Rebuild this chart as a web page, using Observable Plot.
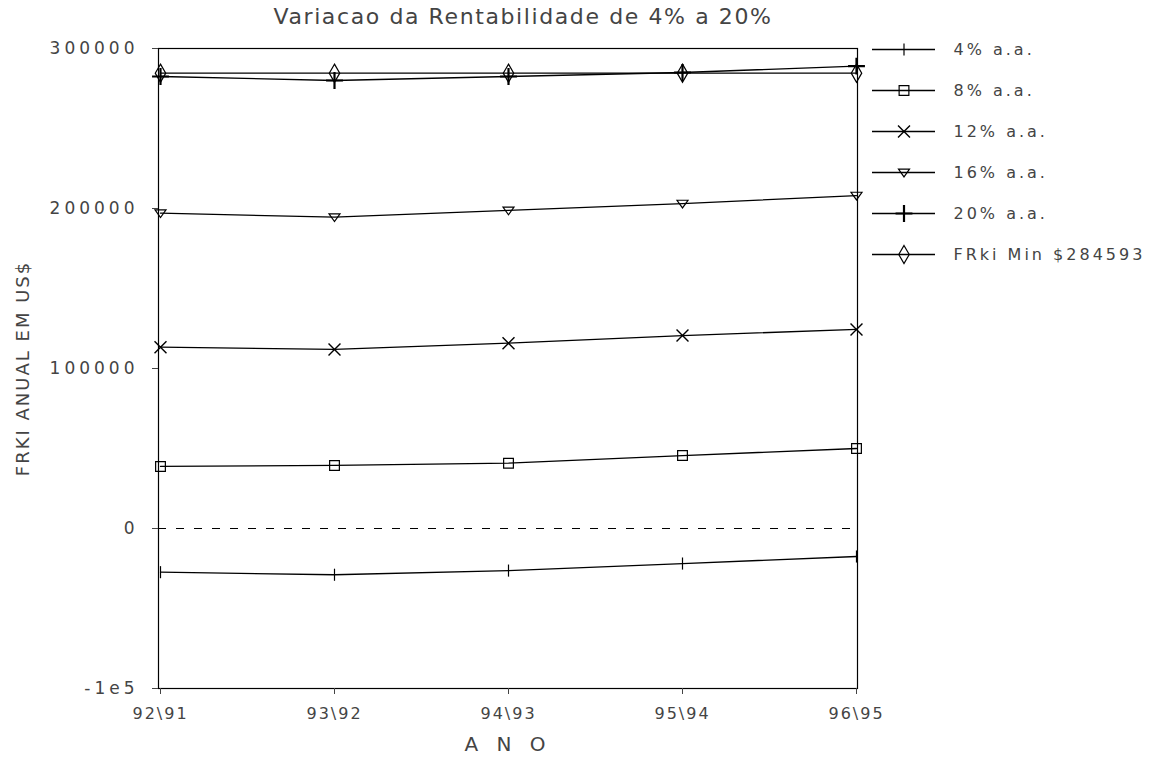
<!DOCTYPE html>
<html><head><meta charset="utf-8">
<script src="https://cdn.jsdelivr.net/npm/d3@7"></script>
<script src="https://cdn.jsdelivr.net/npm/@observablehq/plot@0.6"></script>
<style>
body{margin:0;background:#fff;}
#wrap{position:relative;width:1171px;height:763px;font-family:"DejaVu Sans",sans-serif;color:#444;overflow:hidden;}
#title{position:absolute;left:0;width:1046px;top:4px;text-align:center;font-size:22px;letter-spacing:1.6px;color:#444;}
#chart{position:absolute;left:0;top:0;}
#legend{position:absolute;left:865px;top:0;}
#chart svg text{fill:#444;}
#chart [aria-label="y-axis tick label"] text{font-size:17px;letter-spacing:4px;}
#chart [aria-label="x-axis tick label"] text{font-size:16px;letter-spacing:2px;}
#chart [aria-label="y-axis label"] text{font-size:18px;letter-spacing:2px;}
#chart [aria-label="x-axis label"] text{font-size:20px;letter-spacing:6px;}
#legend svg text{fill:#444;font-size:16px;letter-spacing:3px;}
</style></head><body>
<div id="wrap">
  <div id="chart"></div>
  <div id="title">Variacao da Rentabilidade de 4% a 20%</div>
  <div id="legend"></div>
</div>
<script>
const years = ["92\\91", "93\\92", "94\\93", "95\\94", "96\\95"];
const seriesNames = ["4% a.a.", "8% a.a.", "12% a.a.", "16% a.a.", "20% a.a.", "FRki Min $284593"];
const v4  = [-27300, -28900, -26300, -21900, -17500];
const v8  = [38800, 39400, 40800, 45600, 50000];
const v12 = [113300, 111900, 115800, 120600, 124400];
const v16 = [197100, 194600, 198800, 203100, 208100];
const v20 = [282500, 280000, 282500, 285000, 289000];
const vMin = [284593, 284593, 284593, 284593, 284593];
const yTicks = [-100000, 0, 100000, 200000, 300000];
const yTickLabels = ["-1e5", "0", "100000", "200000", "300000"];
const zeroLine = [0];

const seriesValues = [v4, v8, v12, v16, v20, vMin];
const data = seriesNames.flatMap((name, i) => years.map((yr, j) => ({series: name, year: yr, value: seriesValues[i][j]})));

// custom symbols
const vbar = {draw(c, s) { const r = Math.sqrt(s / Math.PI) * 1.1; c.moveTo(0, -r); c.lineTo(0, r); }};
const invTri = {draw(c, s) { const r = Math.sqrt(s / Math.PI); c.moveTo(-r, -r * 0.6); c.lineTo(r, -r * 0.6); c.lineTo(0, r * 0.8); c.closePath(); }};
const symbols = [vbar, "square", "times", invTri, "plus", "diamond"];
const widths = [1.2, 1.2, 1.4, 1.2, 2.2, 1.2];

const dotMarks = (rows, xAcc) => seriesNames.map((name, i) =>
  Plot.dot(rows.filter(d => d.series === name), {x: xAcc, y: "value", symbol: symbols[i], r: 5.5, stroke: "black", strokeWidth: widths[i], fill: "none"})
);

const chart = Plot.plot({
  width: 1171,
  height: 763,
  marginTop: 48,
  marginLeft: 158,
  marginRight: 314,
  marginBottom: 75,
  style: {fontFamily: "DejaVu Sans, sans-serif", background: "white"},
  x: {type: "point", domain: years, padding: 0},
  y: {domain: [-100000, 300000]},
  marks: [
    Plot.ruleY(zeroLine, {stroke: "black", strokeWidth: 1.2, strokeDasharray: "8,10"}),
    Plot.frame({stroke: "black", strokeWidth: 1.2}),
    Plot.axisY({ticks: yTicks, tickFormat: (d) => yTickLabels[yTicks.indexOf(d)], tickSize: 6, tickPadding: 14,
      label: "FRKI ANUAL EM US$", labelAnchor: "center", labelArrow: "none", labelOffset: 142}),
    Plot.axisX({tickSize: 6, tickPadding: 13, label: "A N O", labelAnchor: "center", labelArrow: "none", labelOffset: 62}),
    Plot.line(data, {x: "year", y: "value", z: "series", stroke: "black", strokeWidth: 1.3}),
    ...dotMarks(data, "year")
  ]
});
document.getElementById("chart").append(chart);

// legend drawn with Plot
const legend = Plot.plot({
  width: 306,
  height: 280,
  margin: 0,
  style: {fontFamily: "DejaVu Sans, sans-serif", background: "transparent", overflow: "visible"},
  x: {domain: [0, 1], range: [7, 70], axis: null},
  y: {type: "point", domain: seriesNames, range: [48, 255], padding: 0, axis: null},
  marks: [
    Plot.ruleY(seriesNames, {y: (d) => d, x1: 0, x2: 1, stroke: "black", strokeWidth: 1.3}),
    ...seriesNames.map((name, i) => Plot.dot([name], {x: 0.5, y: (d) => d, symbol: symbols[i], r: 5.5, stroke: "black", strokeWidth: widths[i], fill: "none"})),
    Plot.text(seriesNames, {x: 1, y: (d) => d, text: (d) => d, textAnchor: "start", dx: 18})
  ]
});
document.getElementById("legend").append(legend);
</script>
</body></html>
